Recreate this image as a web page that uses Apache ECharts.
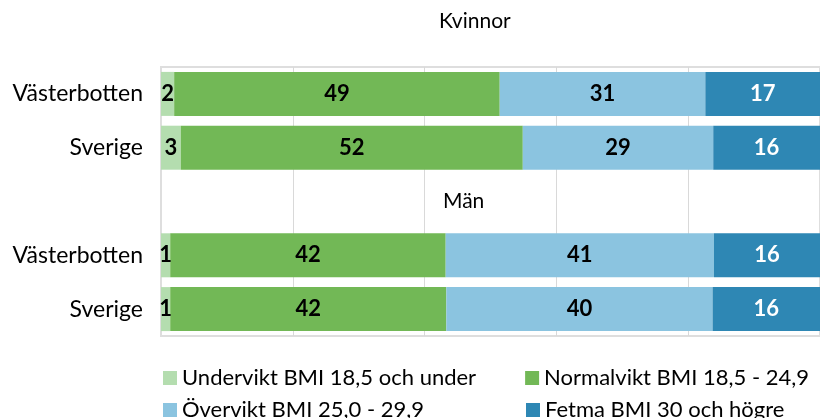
<!DOCTYPE html>
<html>
<head>
<meta charset="utf-8">
<script src="https://cdn.jsdelivr.net/npm/echarts@6/dist/echarts.min.js"></script>
<style>
  html, body { margin: 0; padding: 0; background: #fff; }
  #chart { width: 820px; height: 418px; }
</style>
</head>
<body>
<div id="chart"></div>
<script>
// rader uppifrån: Kvinnor (Västerbotten, Sverige), tom rad för "Män", Män (Västerbotten, Sverige)
var categories = ["Västerbotten", "Sverige", "", "Västerbotten", "Sverige"];
var seriesNames = [
  "Undervikt BMI 18,5 och under",
  "Normalvikt BMI 18,5 - 24,9",
  "Övervikt BMI 25,0 - 29,9",
  "Fetma BMI 30 och högre"
];
var undervikt = [2.0, 3.0, null, 1.4, 1.4];
var normalvikt = [49.4, 51.9, null, 41.8, 41.9];
var overvikt = [31.2, 28.9, null, 40.7, 40.4];
var fetma = [17.4, 16.2, null, 16.1, 16.3];
var xTicks = [0, 20, 40, 60, 80, 100];

var colors = ["#b4ddaf", "#72b856", "#8bc4e0", "#2e87b4"];
var font = "Lato, 'Noto Sans', sans-serif";

var chart = echarts.init(document.getElementById("chart"));

function makeSeries(name, data, color, labelColor) {
  return {
    name: name,
    type: "bar",
    stack: "total",
    barWidth: 44,
    data: data,
    itemStyle: { color: color },
    label: {
      show: true,
      position: "inside",
      color: labelColor,
      fontFamily: font,
      fontWeight: "bold",
      fontSize: 22,
      formatter: function (p) {
        return p.value == null ? "" : Math.round(p.value);
      }
    }
  };
}

// en legendrad per rad, gap valt så att andra kolumnen hamnar rakt under varandra
function legendRow(names, top, gap) {
  return {
    data: names,
    left: 158,
    top: top,
    icon: "rect",
    itemWidth: 14,
    itemHeight: 14,
    itemGap: gap,
    itemTextGap: 11,
    selectedMode: false,
    textStyle: { color: "#000", fontFamily: font, fontSize: 22 }
  };
}

chart.setOption({
  animation: false,
  color: colors,
  grid: {
    left: 161,
    top: 67,
    width: 667,
    height: 269,
    show: true,
    borderColor: "#dedede",
    borderWidth: 2
  },
  xAxis: {
    type: "value",
    min: xTicks[0],
    max: xTicks[xTicks.length - 1],
    interval: 20,
    axisLabel: { show: false },
    axisLine: { show: false },
    axisTick: { show: false },
    splitLine: { lineStyle: { color: "#d9d9d9", width: 1 } }
  },
  yAxis: {
    type: "category",
    inverse: true,
    data: categories,
    axisTick: { show: false },
    axisLine: { show: true, lineStyle: { color: "#dedede", width: 2 } },
    axisLabel: {
      margin: 18,
      color: "#000",
      fontFamily: font,
      fontSize: 23
    }
  },
  legend: [
    legendRow([seriesNames[0], seriesNames[1]], 362, 49),
    legendRow([seriesNames[2], seriesNames[3]], 394, 102)
  ],
  graphic: [
    {
      type: "text",
      left: 439,
      top: 11,
      style: { text: "Kvinnor", fill: "#000", font: "21px " + font }
    },
    {
      type: "text",
      left: 443,
      top: 191,
      style: { text: "Män", fill: "#000", font: "21px " + font }
    }
  ],
  series: [
    makeSeries(seriesNames[0], undervikt, colors[0], "#000"),
    makeSeries(seriesNames[1], normalvikt, colors[1], "#000"),
    makeSeries(seriesNames[2], overvikt, colors[2], "#000"),
    makeSeries(seriesNames[3], fetma, colors[3], "#fff")
  ]
});
</script>
</body>
</html>
